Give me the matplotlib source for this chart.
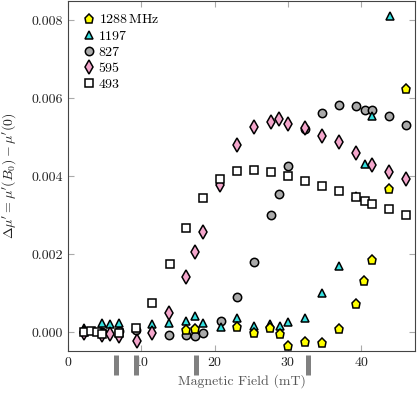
import matplotlib
matplotlib.use("Agg")
import matplotlib.pyplot as plt
import matplotlib.transforms as mtransforms

plt.rcParams["font.family"] = "serif"
plt.rcParams["font.serif"] = ["cmr10"]
plt.rcParams["mathtext.fontset"] = "cm"
plt.rcParams["axes.formatter.use_mathtext"] = True

# 1288 MHz
x_1288 = [16.1, 17.3, 23.1, 25.4, 27.6, 28.9, 30.0, 32.3, 34.6, 37.0, 39.2, 40.4, 41.5, 43.8, 46.1]
y_1288 = [0.00005, 0.00007, 0.00012, -0.00002, 0.00009, -0.00006, -0.00036, -0.00025, -0.00029,
          0.00007, 0.00072, 0.00131, 0.00186, 0.00367, 0.00625]

# 1197 MHz
x_1197 = [2.2, 4.6, 5.7, 6.9, 11.5, 13.8, 16.1, 17.3, 18.4, 20.8, 23.1, 25.4, 27.6, 28.9,
          30.0, 32.3, 34.6, 37.0, 39.2, 40.5, 41.5, 43.9]
y_1197 = [0.0001, 0.00024, 0.0002, 0.00022, 0.0002, 0.00022, 0.00028, 0.00042, 0.00024, 0.00014,
          0.00035, 0.00015, 0.0002, 0.00015, 0.00026, 0.00037, 0.001, 0.00169, 0.0035, 0.00431,
          0.00554, 0.00812]

# 827 MHz
x_827 = [2.2, 4.6, 7.0, 9.3, 13.8, 16.1, 17.3, 18.4, 20.8, 23.1, 25.4, 27.7, 28.8, 30.0,
         32.3, 34.6, 36.9, 39.2, 40.5, 41.5, 43.8, 46.1]
y_827 = [0.0, 0.0, 0.00002, 0.00005, -0.00008, -0.00008, -0.0001, -0.00002, 0.00029, 0.00089,
         0.0018, 0.00301, 0.00354, 0.00426, 0.0052, 0.00563, 0.00582, 0.0058, 0.00571, 0.00571,
         0.00554, 0.00531]

# 595 MHz
x_595 = [2.2, 4.6, 5.7, 7.0, 9.4, 11.5, 13.8, 16.1, 17.3, 18.4, 20.7, 23.1, 25.4, 27.7, 28.8,
         30.0, 32.3, 34.6, 36.9, 39.2, 41.5, 43.8, 46.1]
y_595 = [-0.00003, -0.00008, -0.00005, -0.0001, -0.00022, -0.00003, 0.0005, 0.00141, 0.00205,
         0.00256, 0.00378, 0.0048, 0.00526, 0.0054, 0.00546, 0.00533, 0.00523, 0.00503, 0.00488,
         0.0046, 0.00428, 0.00411, 0.00393]

# 493 MHz
x_493 = [2.2, 3.1, 4.0, 4.6, 7.0, 9.3, 11.5, 13.9, 16.1, 18.4, 20.7, 23.1, 25.4, 27.7, 30.0,
         32.3, 34.6, 36.9, 39.2, 40.5, 41.5, 43.8, 46.1]
y_493 = [0.0, 0.00002, 0.0, -0.00005, -0.00003, 0.0001, 0.00075, 0.00174, 0.00267, 0.00344,
         0.00393, 0.00414, 0.00416, 0.00412, 0.00401, 0.00388, 0.00375, 0.00361, 0.00346,
         0.00337, 0.00329, 0.00316, 0.00301]

resonances = [6.6, 9.3, 17.4, 32.7]

fig = plt.figure(figsize=(4.19, 3.95), dpi=100)
ax = fig.add_axes([0.1623, 0.1122, 0.8282, 0.8853])

kw = dict(linestyle="none", markeredgecolor="black", markeredgewidth=1.1)
ax.plot(x_1288, y_1288, marker="p", markersize=6.5, markerfacecolor="#ffff00",
        label=r"$1288\,\mathrm{MHz}$", zorder=4, **kw)
ax.plot(x_1197, y_1197, marker="^", markersize=6, markerfacecolor="#33e0e0",
        label="1197", zorder=2, **kw)
ax.plot(x_827, y_827, marker="o", markersize=6, markerfacecolor="#aaaaaa",
        label="827", zorder=1, **kw)
ax.plot(x_595, y_595, marker="d", markersize=7, markerfacecolor="#f4a6cc",
        label="595", zorder=3, **kw)
ax.plot(x_493, y_493, marker="s", markersize=5.3, markerfacecolor="white",
        label="493", zorder=5, **kw)

trans = mtransforms.blended_transform_factory(ax.transData, ax.transAxes)
for r in resonances:
    ax.plot([r, r], [-0.012, -0.069], color="#808080", linewidth=3.6,
            transform=trans, clip_on=False, solid_capstyle="butt")

ax.set_xlim(0, 47.3)
ax.set_ylim(-0.00048, 0.0085)
ax.set_xticks([0, 10, 20, 30, 40])
ax.set_yticks([0.0, 0.002, 0.004, 0.006, 0.008])
ax.set_yticklabels(["0.000", "0.002", "0.004", "0.006", "0.008"])
ax.tick_params(direction="in", top=True, right=True, length=4, color="#aaaaaa",
               labelsize=10, labelcolor="#222222")
for s in ax.spines.values():
    s.set_color("#444444")

ax.set_xlabel("Magnetic Field (mT)", fontsize=10, color="#555555", labelpad=4)
ax.set_ylabel(r"$\Delta\mu' = \mu'(B_0) - \mu'(0)$", fontsize=10, color="#222222", labelpad=10)

ax.legend(loc="upper left", frameon=False, fontsize=10, handletextpad=0.1,
          handlelength=1.2, labelspacing=0.25, borderaxespad=0.5)

fig.savefig("out.png", dpi=100)
